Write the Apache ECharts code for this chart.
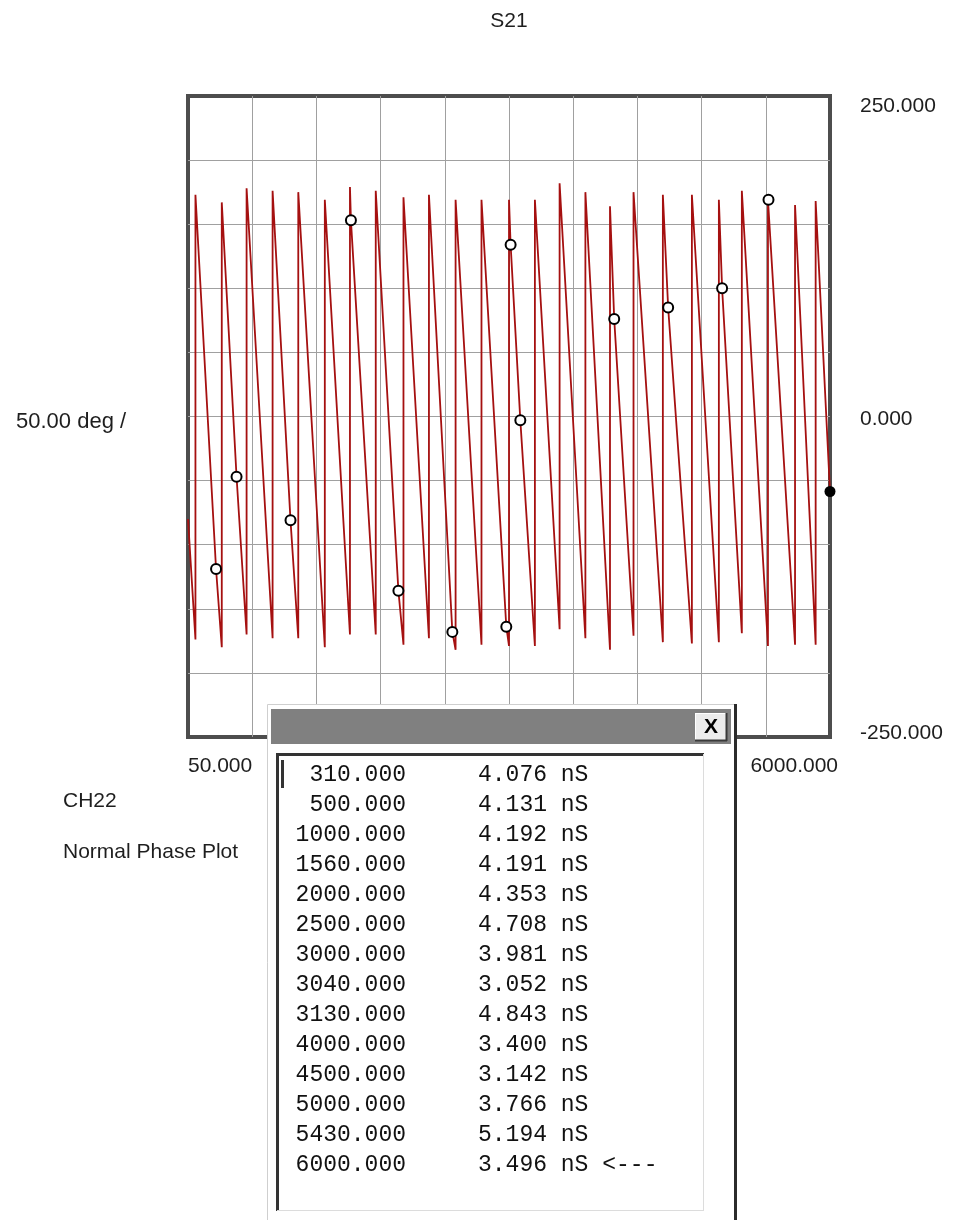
<!DOCTYPE html>
<html>
<head>
<meta charset="utf-8">
<title>S21</title>
<script src="https://cdn.jsdelivr.net/npm/echarts@6.0.0/dist/echarts.min.js"></script>
<style>
  html, body { margin: 0; padding: 0; background: #ffffff; }
  #chart { width: 955px; height: 1220px; }
</style>
</head>
<body>
<div id="chart"></div>
<script>
const colors = {
  trace: "#a51010",
  grid: "#a0a0a0",
  frame: "#4d4d4d",
  text: "#1e1e1e",
  bar: "#808080",
};

// sweep ends (MHz) and the phase there (deg)
const startFreq = 50;
const startPhase = -80;
const endFreq = 6000;
const endPhase = -58.5;

// every wrap: phase falls to the trough, then jumps up to the peak
const wrapFreqs = [119, 363, 593, 834, 1072, 1318, 1551, 1790, 2047, 2283, 2530, 2770, 3025,
  3265, 3494, 3733, 3961, 4179, 4451, 4720, 4970, 5183, 5425, 5676, 5867];
const wrapTroughs = [-174, -180, -170, -173, -173, -180, -170, -170, -178, -173, -182, -178, -179,
  -179, -166, -173, -182, -171, -176, -177, -176, -169, -179, -178, -178];
const wrapPeaks = [173, 167, 178, 176, 175, 169, 179, 176, 171, 173, 169, 169, 169,
  169, 182, 175, 164, 175, 173, 173, 169, 176, 169, 165, 168];

// marker points on the trace
const markerFreqs = [310, 500, 1000, 1560, 2000, 2500, 3000, 3040, 3130, 4000, 4500, 5000, 5430];
const markerPhases = [-119, -47, -81, 153, -136, -168, -164, 134, -3, 76, 85, 100, 169];

// group delay list
const tableFreqs = ["310.000", "500.000", "1000.000", "1560.000", "2000.000", "2500.000", "3000.000",
  "3040.000", "3130.000", "4000.000", "4500.000", "5000.000", "5430.000", "6000.000"];
const tableDelays = ["4.076", "4.131", "4.192", "4.191", "4.353", "4.708", "3.981",
  "3.052", "4.843", "3.400", "3.142", "3.766", "5.194", "3.496"];
const selectedRow = 13;

const xTickValues = [50, 6000];
const xTickLabels = ["50.000", "6000.000"];
const yTickValues = [250, 0, -250];
const yTickLabels = ["250.000", "0.000", "-250.000"];

// build the wrapped trace, passing through the markers
const trace = [[startFreq, startPhase]];
let m = 0;
wrapFreqs.forEach((f, i) => {
  while (m < markerFreqs.length && markerFreqs[m] < f) {
    trace.push([markerFreqs[m], markerPhases[m]]);
    m++;
  }
  trace.push([f, wrapTroughs[i]], [f, wrapPeaks[i]]);
});
while (m < markerFreqs.length) {
  trace.push([markerFreqs[m], markerPhases[m]]);
  m++;
}
trace.push([endFreq, endPhase]);

const markers = markerFreqs.map((f, i) => [f, markerPhases[i]]);

const sans = "'Liberation Sans', Arial, sans-serif";
const mono = "'Liberation Mono', 'Courier New', monospace";

const label = (text, x, y, extra) => ({
  type: "text",
  x, y, z: 100,
  style: Object.assign({
    text, fill: colors.text, fontFamily: sans, fontSize: 21,
    align: "left", verticalAlign: "middle",
  }, extra || {}),
});

const line = (x1, y1, x2, y2, stroke, lineWidth) => ({
  type: "line", z: 100,
  shape: { x1, y1, x2, y2 },
  style: { stroke, lineWidth },
});

const rect = (x, y, width, height, style) => ({
  type: "rect", z: 100,
  shape: { x, y, width, height },
  style,
});

// popup with the delay list
const popup = [
  rect(267.5, 704.5, 468, 530, { fill: "#ffffff", stroke: "#cfcfcf", lineWidth: 1 }),
  line(735.5, 704, 735.5, 1220, "#2b2b2b", 3),
  rect(271, 709, 460, 35, { fill: colors.bar }),
  rect(695, 713, 32, 28, { fill: "#ececec" }),
  line(695, 713.5, 727, 713.5, "#ffffff", 1),
  line(695.5, 713, 695.5, 741, "#ffffff", 1),
  line(695, 740.5, 727, 740.5, "#3a3a3a", 2),
  line(726.5, 713, 726.5, 741, "#3a3a3a", 2),
  label("X", 711, 727, { fontSize: 21, fontWeight: "bold", align: "center", fill: "#000000" }),
  rect(278, 755, 425, 456, { fill: "#ffffff" }),
  line(276, 754.5, 704, 754.5, "#333333", 3),
  line(277.5, 753, 277.5, 1211, "#333333", 3),
  line(703.5, 754, 703.5, 1211, "#dcdcdc", 1),
  line(277, 1210.5, 704, 1210.5, "#dcdcdc", 1),
  rect(281, 760, 3, 28, { fill: "#333333" }),
];
tableFreqs.forEach((f, i) => {
  const y = 775 + i * 30;
  popup.push(label(f, 406, y, { fontFamily: mono, fontSize: 23, align: "right", fill: "#111111" }));
  const d = tableDelays[i] + " nS" + (i === selectedRow ? " <---" : "");
  popup.push(label(d, 478, y, { fontFamily: mono, fontSize: 23, fill: "#111111" }));
});

const chart = echarts.init(document.getElementById("chart"));

chart.setOption({
  animation: false,
  backgroundColor: "#ffffff",
  grid: {
    left: 188,
    top: 96,
    width: 642,
    height: 641,
    show: true,
    backgroundColor: "#ffffff",
    borderColor: colors.frame,
    borderWidth: 4,
  },
  xAxis: [
    {
      type: "value",
      min: 50,
      max: 6000,
      axisLine: { show: false },
      axisTick: { show: false },
      splitLine: { show: false },
      axisLabel: {
        margin: 19,
        alignMinLabel: "left",
        alignMaxLabel: "right",
        color: colors.text,
        fontFamily: sans,
        fontSize: 21,
        formatter: (v) => {
          const i = xTickValues.indexOf(v);
          if (i < 0) return "";
          return i === 1 ? "{r|" + xTickLabels[i] + "}" : xTickLabels[i];
        },
        rich: {
          r: { color: colors.text, fontFamily: sans, fontSize: 21, padding: [0, -8, 0, 0] },
        },
      },
    },
    {
      // only for the 10 x 10 grid
      type: "value",
      min: 0,
      max: 10,
      interval: 1,
      axisLine: { show: false },
      axisTick: { show: false },
      axisLabel: { show: false },
      splitLine: {
        show: true,
        showMinLine: false,
        showMaxLine: false,
        lineStyle: { color: colors.grid, width: 1 },
      },
    },
  ],
  yAxis: {
    type: "value",
    position: "right",
    min: -250,
    max: 250,
    interval: 50,
    axisLine: { show: false },
    axisTick: { show: false },
    splitLine: {
      show: true,
      showMinLine: false,
      showMaxLine: false,
      lineStyle: { color: colors.grid, width: 1 },
    },
    axisLabel: {
      margin: 30,
      color: colors.text,
      fontFamily: sans,
      fontSize: 21,
      formatter: (v) => {
        const i = yTickValues.indexOf(v);
        if (i < 0) return "";
        return "{" + ["top", "mid", "bot"][i] + "|" + yTickLabels[i] + "}";
      },
      rich: {
        top: { color: colors.text, fontFamily: sans, fontSize: 21, padding: [20, 0, 0, 0] },
        mid: { color: colors.text, fontFamily: sans, fontSize: 21, padding: [6, 0, 0, 0] },
        bot: { color: colors.text, fontFamily: sans, fontSize: 21, padding: [0, 0, 8, 0] },
      },
    },
  },
  series: [
    {
      name: "S21",
      type: "line",
      xAxisIndex: 0,
      data: trace,
      showSymbol: false,
      symbol: "none",
      z: 3,
      lineStyle: { color: colors.trace, width: 1.8 },
    },
    {
      name: "markers",
      type: "scatter",
      xAxisIndex: 0,
      data: markers,
      symbol: "circle",
      symbolSize: 10,
      z: 5,
      itemStyle: { color: "#ffffff", borderColor: "#000000", borderWidth: 2, opacity: 1 },
    },
    {
      name: "active",
      type: "scatter",
      xAxisIndex: 0,
      data: [[endFreq, endPhase]],
      symbol: "circle",
      symbolSize: 11,
      z: 6,
      clip: false,
      itemStyle: { color: "#000000", opacity: 1 },
    },
  ],
  graphic: [
    label("S21", 509, 21, { align: "center" }),
    label("50.00 deg /", 16, 422, { fontSize: 22 }),
    label("CH22", 63, 801),
    label("Normal Phase Plot", 63, 852),
    ...popup,
  ],
});

window.addEventListener("resize", () => chart.resize(), { passive: true });
</script>
</body>
</html>
